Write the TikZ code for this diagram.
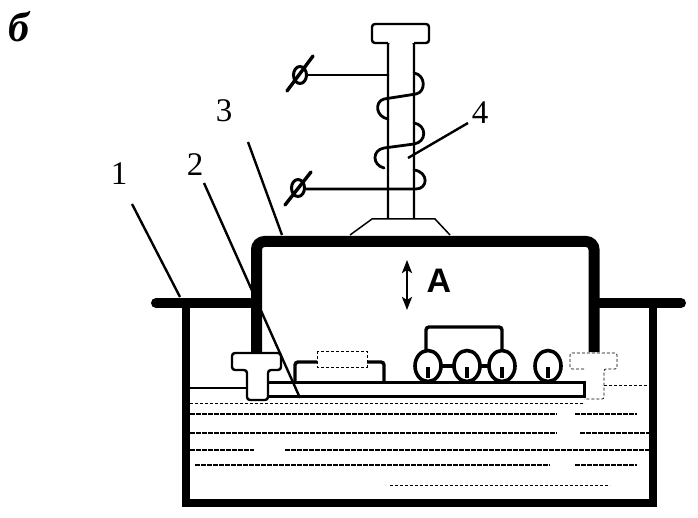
\documentclass[tikz,border=0pt]{standalone}
\usepackage{fontspec}
\setmainfont{Liberation Serif}
\newfontfamily\labelsans{Liberation Sans}
\usetikzlibrary{arrows.meta}
\tikzset{
  heavy/.style={black, line width=10pt, line cap=round},
  wall/.style={black, line width=8pt, line cap=round},
  wire/.style={black, line width=3.4pt, rounded corners=3pt},
  coil/.style={black, line width=2.8pt, line cap=round},
  outline/.style={black, line width=2.4pt, rounded corners=3pt},
  faint/.style={black, line width=0.7pt, densely dashed},
  level/.style={black, line width=1.3pt, dash pattern=on 5pt off 1pt},
  leader/.style={black, line width=2.4pt},
  num/.style={font=\fontsize{33}{33}\selectfont, inner sep=0pt},
}
\begin{document}
\begin{tikzpicture}[x=1pt, y=-1pt]
\useasboundingbox (0,0) rectangle (698,518);
% bath
\draw[wall] (186,303) -- (186,503) -- (653,503) -- (653,303);
\draw[heavy] (156,303) -- (250,303);
\draw[heavy] (600,303) -- (681,303);
% liquid
\foreach \y/\a/\b/\c/\d in {414/190/557/575/637, 433/190/557/580/649, 450/190/254/285/649, 465/195/550/575/637}
  \draw[level] (\a,\y) -- (\b,\y) (\c,\y) -- (\d,\y);
\draw[faint] (190,403) -- (585,403) (390,485) -- (610,485);
% hood
\draw[black, line width=11pt, rounded corners=8pt] (256.5,352) -- (256.5,241.5) -- (594,241.5) -- (594,352);
% post and cap
\draw[outline] (388,218) -- (388,41) -- (414,41) -- (414,218);
\draw[outline, fill=white] (388,43) -- (372,43) -- (372,24) -- (429,24) -- (429,43) -- (414,43);
\draw[black, line width=1.5pt] (350,235) -- (372,219) -- (435,219) -- (450,235);
% board and bolts
\draw[black, line width=3pt] (268,382) -- (584,382) (268,396) -- (584,396) (584,380.5) -- (584,397.5);
\draw[outline, fill=white] (247,370) -- (232,370) -- (232,353) -- (281,353) -- (281,370) -- (268,370) -- (268,400) -- (247,400) -- cycle;
\draw[faint, rounded corners=2pt] (584,369) -- (570,369) -- (570,353) -- (617,353) -- (617,369) -- (604,369) -- (604,399) -- (584,399);
\draw[black, line width=1.8pt] (190,388) -- (247,388);
\draw[faint] (604,385) -- (649,385);
% component on the board
\draw[faint] (317,351) rectangle (367,367);
\draw[wire] (295,382) -- (295,362) -- (317,362);
\draw[wire] (367,362) -- (384,362) -- (384,382);
% contacts
\draw[wire] (426,350) -- (426,327) -- (502,327) -- (502,350);
\draw[black, line width=3.4pt] (441,366) -- (454,366) (481,366) -- (489,366);
\foreach \cx in {428,467,502,548} {
  \draw[black, line width=3.6pt, fill=white] (\cx,366) ellipse (13pt and 15.5pt);
  \draw[black, line width=4pt] (\cx,367) -- (\cx,378);
}
% coil
\draw[coil] (414,73) .. controls (426,75) and (426,92) .. (416,94) -- (384,99) .. controls (374,102) and (376,117) .. (388,119);
\draw[coil] (414,123) .. controls (427,125) and (427,142) .. (414,144) -- (384,148) .. controls (372,150) and (372,165) .. (384,168);
\draw[coil] (414,170) .. controls (429,172) and (428,189) .. (416,189) -- (306,189);
\draw[coil] (388,75) -- (308,75);
% terminals
\foreach \tx/\ty/\ax/\ay/\bx/\by in {300/75/287/91/313/56, 298/188/285/205/311/172} {
  \draw[black, line width=3pt] (\tx,\ty) ellipse (6.5pt and 8.5pt);
  \draw[black, line width=3.4pt, line cap=round] (\ax,\ay) -- (\bx,\by);
}
% leaders
\coordinate (end1) at (180,297);
\coordinate (end2) at (300,398);
\coordinate (end3) at (282,235);
\coordinate (end4) at (408,158);
\node[num] (num1) at (119,174) {1};
\node[num] (num2) at (195,165) {2};
\node[num] (num3) at (224,111) {3};
\node[num] (num4) at (480,113) {4};
\draw[leader] (132,204) -- (end1);
\draw[leader] (204,183) -- (end2);
\draw[leader] (248,142) -- (end3);
\draw[leader] (468,123) -- (end4);
% motion arrow
\coordinate (up) at (407,260);
\coordinate (down) at (407,310);
\draw[black, line width=2.4pt, {Stealth[length=13pt,width=10pt,inset=3pt]}-{Stealth[length=13pt,width=10pt,inset=3pt]}] (up) -- (down);
\node[font=\labelsans\bfseries\fontsize{34}{34}\selectfont, inner sep=0pt] (labA) at (439,281) {A};
\node[font=\itshape\bfseries\fontsize{42}{42}\selectfont, inner sep=0pt] (labB) at (19,27) {б};
\end{tikzpicture}
\end{document}
